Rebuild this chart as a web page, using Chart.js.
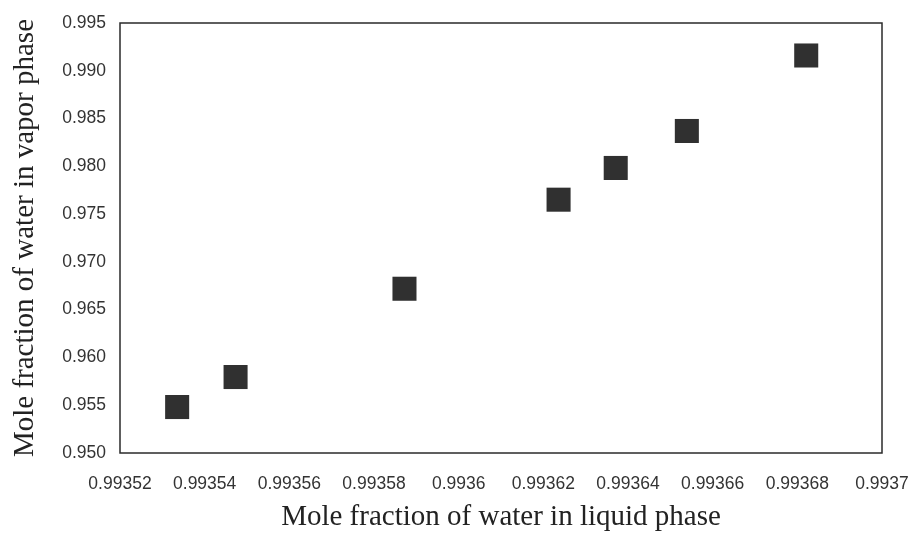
<!DOCTYPE html>
<html>
<head>
<meta charset="utf-8">
<script src="https://cdn.jsdelivr.net/npm/chart.js@4/dist/chart.umd.min.js"></script>
<style>
  html, body { margin: 0; padding: 0; background: #fff; }
  #wrap { width: 912px; height: 537px; }
</style>
</head>
<body>
<div id="wrap"><canvas id="chart" width="912" height="537"></canvas></div>
<script>
// liquid vs vapor mole fraction of water
const liquidX = [0.9935335, 0.9935473, 0.9935872, 0.9936236, 0.9936371, 0.9936539, 0.9936821];
const vaporY  = [0.95481, 0.95795, 0.96719, 0.97651, 0.97983, 0.98370, 0.99160];

const xTicks = [0.99352, 0.99354, 0.99356, 0.99358, 0.9936, 0.99362, 0.99364, 0.99366, 0.99368, 0.9937];
const xTickLabels = ['0.99352', '0.99354', '0.99356', '0.99358', '0.9936', '0.99362', '0.99364', '0.99366', '0.99368', '0.9937'];
const yTicks = [0.950, 0.955, 0.960, 0.965, 0.970, 0.975, 0.980, 0.985, 0.990, 0.995];
const yTickLabels = ['0.950', '0.955', '0.960', '0.965', '0.970', '0.975', '0.980', '0.985', '0.990', '0.995'];

// frame round the plot area (top + right sides too)
const frame = {
    id: 'frame',
    afterDraw(chart) {
        const a = chart.chartArea, ctx = chart.ctx;
        ctx.save();
        ctx.strokeStyle = '#2a2a2a';
        ctx.lineWidth = 1.5;
        ctx.strokeRect(a.left, a.top, a.right - a.left, a.bottom - a.top);
        ctx.restore();
    }
};

const tickFont = { family: "'Liberation Sans', Arial, sans-serif", size: 17.5 };
const titleFont = { family: "'Liberation Serif', 'Times New Roman', serif", size: 29 };

new Chart(document.getElementById('chart'), {
    type: 'scatter',
    data: {
        datasets: [{
            data: liquidX.map((x, i) => ({ x: x, y: vaporY[i] })),
            pointStyle: 'rect',
            pointRadius: 17,
            pointHoverRadius: 17,
            backgroundColor: '#303030',
            borderColor: '#303030',
            borderWidth: 0
        }]
    },
    options: {
        responsive: false,
        animation: false,
        layout: { padding: { top: 23, right: 30, left: 0, bottom: 0 } },
        plugins: { legend: { display: false }, tooltip: { enabled: false } },
        scales: {
            x: {
                type: 'linear',
                min: xTicks[0],
                max: xTicks[xTicks.length - 1],
                afterBuildTicks: s => { s.ticks = xTicks.map(v => ({ value: v })); },
                afterFit: s => { s.height = 84; s.paddingLeft = 0; s.paddingRight = 0; },
                grid: { display: false, drawTicks: false },
                border: { display: false },
                ticks: {
                    font: tickFont,
                    color: '#333',
                    padding: 21,
                    maxRotation: 0,
                    autoSkip: false,
                    callback: (v, i) => xTickLabels[i]
                },
                title: {
                    display: true,
                    text: 'Mole fraction of water in liquid phase',
                    font: titleFont,
                    color: '#222',
                    padding: { top: 0, bottom: 2 }
                }
            },
            y: {
                type: 'linear',
                min: yTicks[0],
                max: yTicks[yTicks.length - 1],
                afterBuildTicks: s => { s.ticks = yTicks.map(v => ({ value: v })); },
                afterFit: s => { s.width = 120; s.paddingTop = 0; s.paddingBottom = 0; },
                grid: { display: false, drawTicks: false },
                border: { display: false },
                ticks: {
                    font: tickFont,
                    color: '#333',
                    padding: 14,
                    autoSkip: false,
                    callback: (v, i) => yTickLabels[i]
                },
                title: {
                    display: true,
                    text: 'Mole fraction of water in vapor phase',
                    font: titleFont,
                    color: '#222',
                    padding: { top: 8, bottom: 0 }
                }
            }
        }
    },
    plugins: [frame]
});
</script>
</body>
</html>
